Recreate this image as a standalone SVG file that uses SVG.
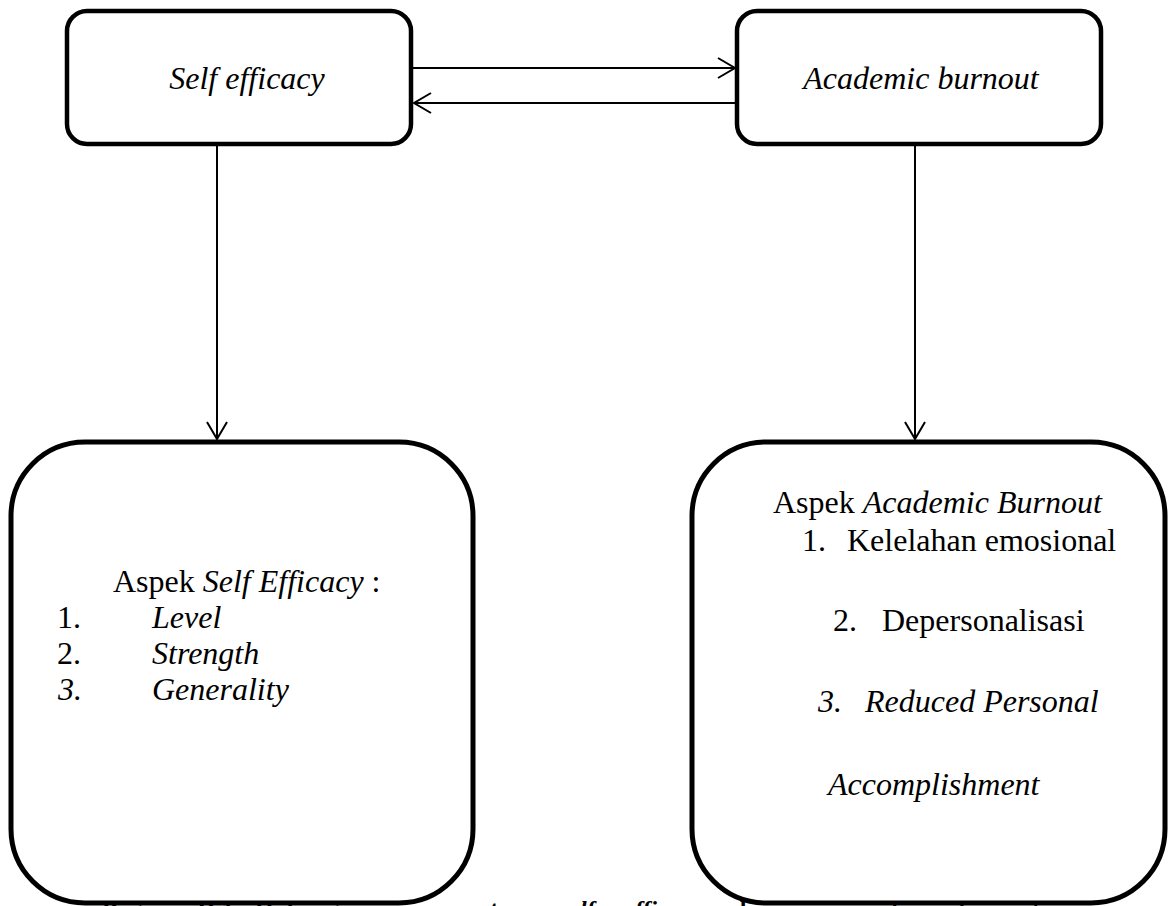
<svg xmlns="http://www.w3.org/2000/svg" width="1168" height="906" viewBox="0 0 1168 906" font-family="'Liberation Serif', 'Times New Roman', Tinos, 'DejaVu Serif', serif">
<style>
  .box{fill:#fff;stroke:#000;stroke-width:4.5}
  .big{fill:#fff;stroke:#000;stroke-width:5}
  .conn{fill:none;stroke:#000;stroke-width:2}
  .t{font-family:'Liberation Serif','Times New Roman',Tinos,'DejaVu Serif',serif;font-size:32px;fill:#000}
  .it{font-style:italic}
  .cap{font-size:24px;font-weight:bold}
</style>
<defs>
  <marker id="arr" markerUnits="userSpaceOnUse" markerWidth="22" markerHeight="24" refX="19" refY="12" orient="auto">
    <path d="M2,2 L19,12 L2,22" fill="none" stroke="#000" stroke-width="2"/>
  </marker>
</defs>
<text class="t cap" y="917"><tspan x="102">Bagan</tspan><tspan x="197">II.1</tspan><tspan x="255">Hubungan</tspan><tspan x="465">antara</tspan><tspan x="560" class="it">self</tspan><tspan x="624" class="it">efficacy</tspan><tspan x="733">dan</tspan><tspan x="850" class="it">academic</tspan><tspan x="958" class="it">burnout</tspan></text>
<g id="connectors">
  <line class="conn" x1="413" y1="68" x2="735" y2="68" marker-end="url(#arr)"/>
  <line class="conn" x1="737" y1="103" x2="414" y2="103" marker-end="url(#arr)"/>
  <line class="conn" x1="217" y1="146" x2="217" y2="439" marker-end="url(#arr)"/>
  <line class="conn" x1="915" y1="146" x2="915" y2="439" marker-end="url(#arr)"/>
</g>
<g id="self-efficacy">
  <rect class="box" x="67" y="11" width="344" height="133" rx="20"/>
  <text class="t it" x="247" y="89" text-anchor="middle">Self efficacy</text>
</g>
<g id="academic-burnout">
  <rect class="box" x="737" y="11" width="364" height="133" rx="20"/>
  <text class="t it" x="921" y="89" text-anchor="middle">Academic burnout</text>
</g>
<g id="aspek-self-efficacy">
  <rect class="big" x="11" y="442" width="462" height="461" rx="74"/>
  <text class="t" x="113" y="592">Aspek <tspan class="it">Self Efficacy</tspan> :</text>
  <text class="t" x="57" y="628">1.</text><text class="t it" x="152" y="628">Level</text>
  <text class="t" x="57" y="664">2.</text><text class="t it" x="152" y="664">Strength</text>
  <text class="t it" x="58" y="700">3.</text><text class="t it" x="152" y="700">Generality</text>
</g>
<g id="aspek-academic-burnout">
  <rect class="big" x="692" y="442" width="473" height="461" rx="74"/>
  <text class="t" x="773" y="513">Aspek <tspan class="it">Academic Burnout</tspan></text>
  <text class="t" x="802" y="551">1.</text><text class="t" x="847" y="551">Kelelahan emosional</text>
  <text class="t" x="833" y="631">2.</text><text class="t" x="882" y="631">Depersonalisasi</text>
  <text class="t it" x="818" y="712">3.</text><text class="t it" x="865" y="712">Reduced Personal</text>
  <text class="t it" x="828" y="795">Accomplishment</text>
</g>
</svg>
